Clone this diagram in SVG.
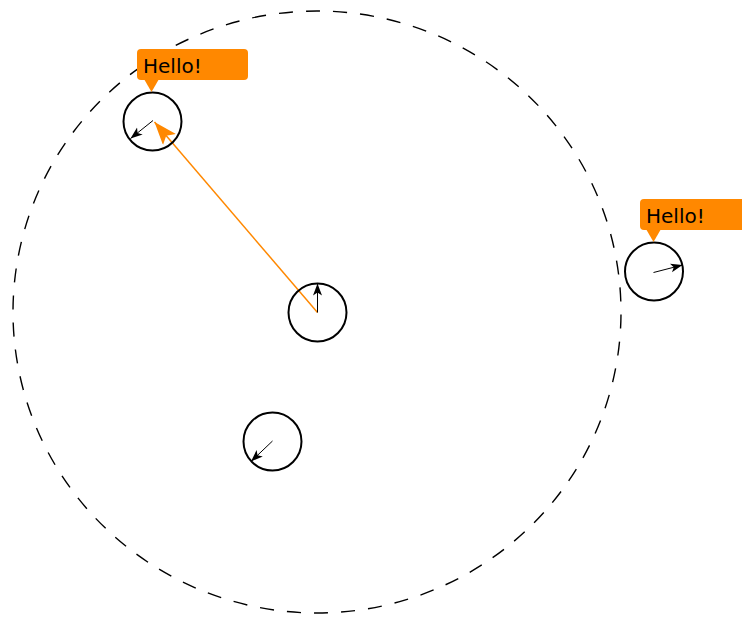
<svg xmlns="http://www.w3.org/2000/svg" width="742" height="617" viewBox="0 0 742 617">
<style>
.node{fill:none;stroke:#000;stroke-width:2}
.dir{stroke:#000;stroke-width:1;fill:none;marker-end:url(#ah)}
.call{fill:#ff8800}
.lbl{font-family:"DejaVu Sans",sans-serif;font-size:20px;fill:#000}
</style>
<defs>
<marker id="ah" markerUnits="userSpaceOnUse" markerWidth="13" markerHeight="10" refX="12" refY="4.5" orient="auto">
<path d="M0,0 L12,4.5 L0,9 L3,4.5 z" fill="#000"/>
</marker>
<marker id="oh" markerUnits="userSpaceOnUse" markerWidth="24" markerHeight="18" refX="23" refY="8.5" orient="auto">
<path d="M0,0 L23,8.5 L0,17 L5,8.5 z" fill="#ff8800"/>
</marker>
</defs>
<path d="M317,11 A304,301 0 0 1 317,613 A304,301 0 0 1 317,11 z" pathLength="1890" fill="none" stroke="#000" stroke-width="1.4" stroke-dasharray="14,13" stroke-dashoffset="11"/>
<g id="connectors">
<line x1="317.5" y1="312.5" x2="154.5" y2="122" stroke="#ff8800" stroke-width="1.5" marker-end="url(#oh)"/>
</g>
<g id="node1">
<circle class="node" cx="152.5" cy="121.5" r="29"/>
<line class="dir" x1="153" y1="120.5" x2="130.5" y2="138.5"/>
</g>
<g id="node2">
<circle class="node" cx="317.5" cy="312.5" r="29"/>
<line class="dir" x1="317.5" y1="312.5" x2="317.5" y2="283.5"/>
</g>
<g id="node3">
<circle class="node" cx="654" cy="271.5" r="29"/>
<line class="dir" x1="653.5" y1="272.5" x2="682.5" y2="265"/>
</g>
<g id="node4">
<circle class="node" cx="272.5" cy="441.5" r="29"/>
<line class="dir" x1="272.5" y1="441" x2="251" y2="461.5"/>
</g>
<g id="callout1">
<rect class="call" x="137" y="49" width="111" height="31" rx="4"/>
<path class="call" d="M144,79 L159,79 L151.5,92 z"/>
<text class="lbl" x="143" y="73">Hello!</text>
</g>
<g id="callout2">
<rect class="call" x="640" y="199" width="110" height="31" rx="4"/>
<path class="call" d="M646,229 L661,229 L653.5,242 z"/>
<text class="lbl" x="646" y="223">Hello!</text>
</g>
</svg>
